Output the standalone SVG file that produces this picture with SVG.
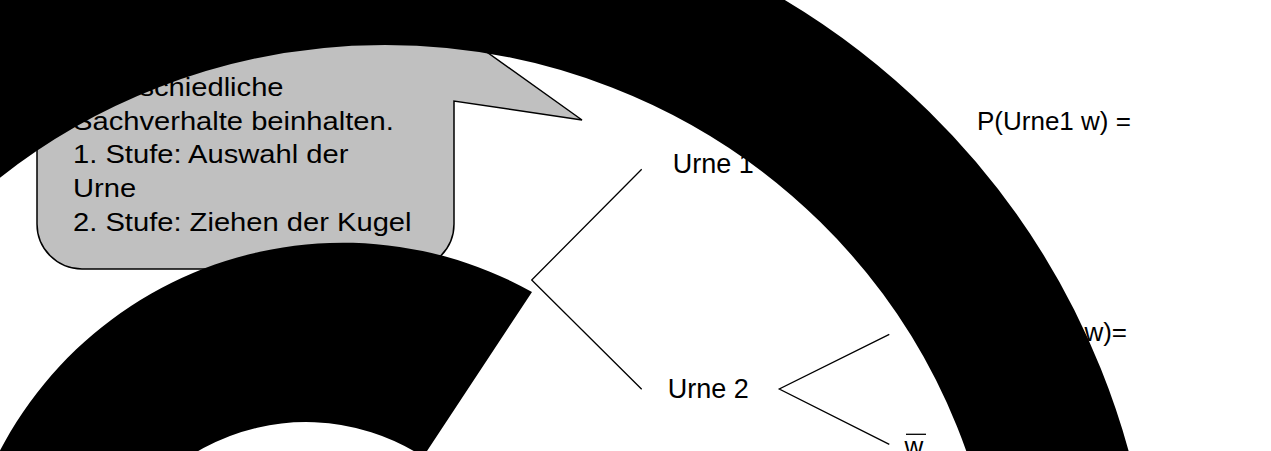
<svg xmlns="http://www.w3.org/2000/svg" width="1271" height="451" viewBox="0 0 1271 451">
<style>
.t{font-family:"Liberation Sans",Arial,Helvetica,sans-serif;fill:#000}
.call{font-size:26.5px}
.lbl{font-size:27px}
.fml{font-size:26px}
.edge{stroke:#000;stroke-width:1.3;fill:none}
</style>
<rect width="1271" height="451" fill="#fff"/>
<g id="callout">
<path d="M82 -10 H400 L582 120 L454 101 V224 A45 45 0 0 1 409 269 H82 A45 45 0 0 1 37 224 V35 A45 45 0 0 1 82 -10 Z" fill="#c0c0c0" stroke="#000" stroke-width="1.5" stroke-linejoin="miter"/>
<g transform="translate(73,0) scale(1.1,1)">
<text class="t call" x="0" y="96">unterschiedliche</text>
<text class="t call" x="0" y="129.7">Sachverhalte beinhalten.</text>
<text class="t call" x="0" y="163.4">1. Stufe: Auswahl der</text>
<text class="t call" x="0" y="197.1">Urne</text>
<text class="t call" x="0" y="230.8">2. Stufe: Ziehen der Kugel</text>
</g>
</g>
<g id="connectors">
<polyline class="edge" points="641.7,169.3 531.7,280 641.7,389.3"/>
<polyline class="edge" points="889.3,334.3 779.3,389 889.3,444.3"/>
</g>
<g id="urne1"><text class="t lbl" x="672.7" y="172.7">Urne 1</text></g>
<g id="urne2"><text class="t lbl" x="667.7" y="397.7">Urne 2</text></g>
<g id="formula1"><text class="t fml" x="977" y="129.5">P(Urne1 w) =</text></g>
<g id="formula2"><text class="t fml" x="1127" y="341" text-anchor="end">w)=</text></g>
<g id="wbar">
<line x1="906" y1="434.3" x2="926" y2="434.3" stroke="#000" stroke-width="1.3"/>
<text class="t fml" x="904.5" y="455">w</text>
</g>
<g id="ring"><ellipse cx="385" cy="648" rx="692.5" ry="680.5" fill="none" stroke="#000" stroke-width="155"/></g>
<g id="arc2"><path d="M-40 574.5 A387 387 0 0 1 532 292 L423.2 456.8 A215 215 0 0 0 91 637 Z" fill="#000"/></g>
</svg>
